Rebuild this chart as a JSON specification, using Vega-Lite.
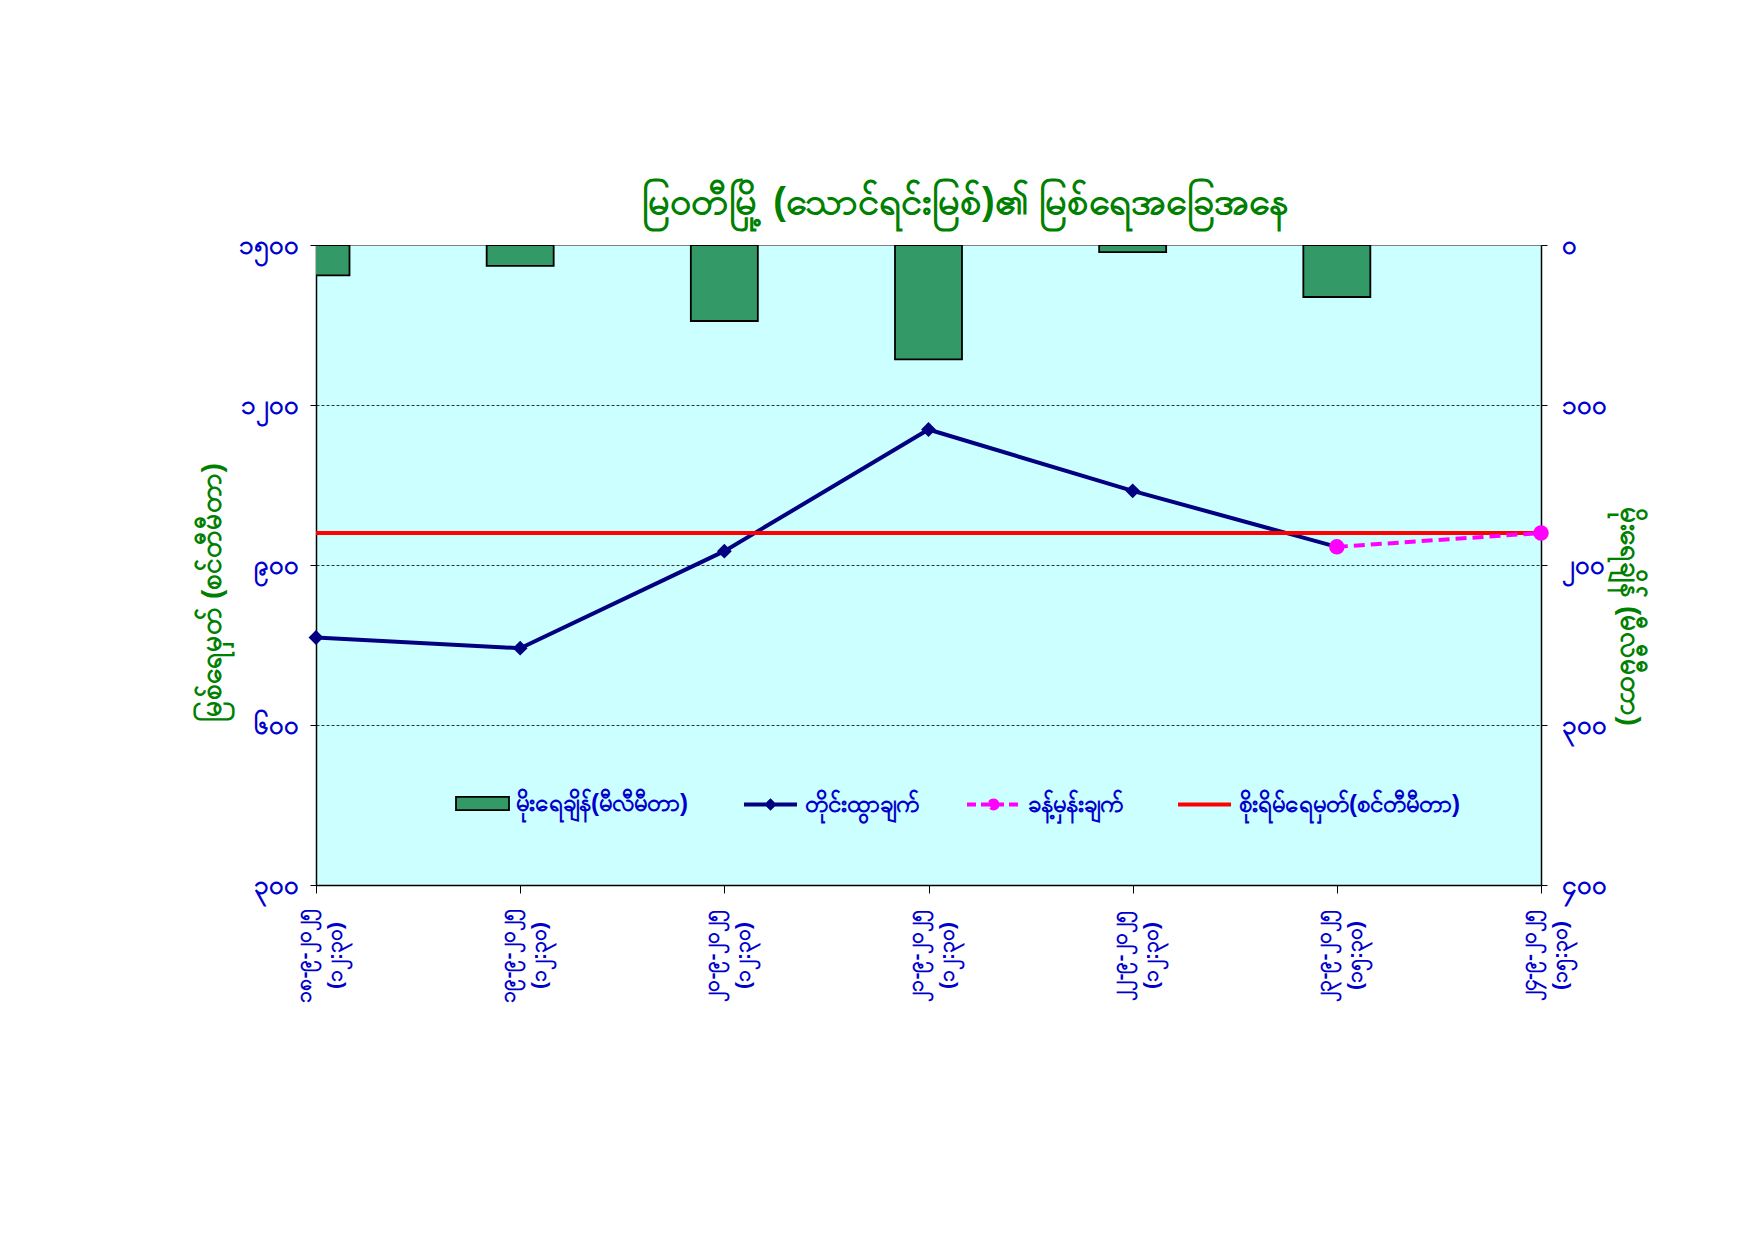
{
  "$schema": "https://vega.github.io/schema/vega-lite/v6.json",
  "description": "Myawaddy (Thaungyin river) water level and rainfall",
  "autosize": {"type": "none"},
  "padding": {"left": 316, "top": 245, "right": 213, "bottom": 356},
  "width": 1225,
  "height": 640,
  "background": "white",

  "title": {
    "text": "မြဝတီမြို့ (သောင်ရင်းမြစ်)၏ မြစ်ရေအခြေအနေ",
    "color": "#008000",
    "fontSize": 38,
    "fontWeight": "bold",
    "anchor": "middle",
    "dx": 37,
    "offset": 10
  },

  "datasets": {
    "rain": [
      {"when": "၁၈-၉-၂၀၂၅ (၁၂:၃၀)", "mm": 19},
      {"when": "၁၉-၉-၂၀၂၅ (၁၂:၃၀)", "mm": 13},
      {"when": "၂၀-၉-၂၀၂၅ (၁၂:၃၀)", "mm": 47.5},
      {"when": "၂၁-၉-၂၀၂၅ (၁၂:၃၀)", "mm": 71.5},
      {"when": "၂၂-၉-၂၀၂၅ (၁၂:၃၀)", "mm": 4.5},
      {"when": "၂၃-၉-၂၀၂၅ (၁၅:၃၀)", "mm": 32.5}
    ],
    "obs": [
      {"when": "၁၈-၉-၂၀၂၅ (၁၂:၃၀)", "cm": 764},
      {"when": "၁၉-၉-၂၀၂၅ (၁၂:၃၀)", "cm": 744},
      {"when": "၂၀-၉-၂၀၂၅ (၁၂:၃၀)", "cm": 926},
      {"when": "၂၁-၉-၂၀၂၅ (၁၂:၃၀)", "cm": 1154},
      {"when": "၂၂-၉-၂၀၂၅ (၁၂:၃၀)", "cm": 1039},
      {"when": "၂၃-၉-၂၀၂၅ (၁၅:၃၀)", "cm": 934}
    ],
    "fc": [
      {"when": "၂၃-၉-၂၀၂၅ (၁၅:၃၀)", "cm": 934},
      {"when": "၂၄-၉-၂၀၂၅ (၁၅:၃၀)", "cm": 960}
    ],
    "danger": [
      {"when": "၁၈-၉-၂၀၂၅ (၁၂:၃၀)", "cm": 960},
      {"when": "၂၄-၉-၂၀၂၅ (၁၅:၃၀)", "cm": 960}
    ]
  },

  "encoding": {
    "x": {
      "field": "when",
      "type": "ordinal",
      "scale": {
        "type": "point",
        "padding": 0,
        "domain": [
          "၁၈-၉-၂၀၂၅ (၁၂:၃၀)", "၁၉-၉-၂၀၂၅ (၁၂:၃၀)", "၂၀-၉-၂၀၂၅ (၁၂:၃၀)",
          "၂၁-၉-၂၀၂၅ (၁၂:၃၀)", "၂၂-၉-၂၀၂၅ (၁၂:၃၀)", "၂၃-၉-၂၀၂၅ (၁၅:၃၀)",
          "၂၄-၉-၂၀၂၅ (၁၅:၃၀)"
        ]
      },
      "axis": {
        "title": null,
        "labelExpr": "split(datum.label, ' ')",
        "labelAngle": 270,
        "labelAlign": "center",
        "labelBaseline": "middle",
        "labelOffset": -12,
        "labelPadding": 62,
        "labelFontSize": 21,
        "labelFontWeight": "bold",
        "labelColor": "#0000CC",
        "labelLineHeight": 31,
        "labelFlush": false,
        "labelOverlap": false,
        "domainColor": "black",
        "domainWidth": 1.5,
        "tickColor": "black",
        "tickSize": 8,
        "grid": false
      }
    }
  },

  "layer": [
    {
      "data": {"name": "rain"},
      "mark": {"type": "bar", "width": 67, "stroke": "black", "strokeWidth": 1.8, "clip": true, "opacity": 1},
      "encoding": {
        "y": {
          "field": "mm",
          "type": "quantitative",
          "scale": {"domain": [0, 400], "reverse": true},
          "axis": {
            "orient": "right",
            "values": [0, 100, 200, 300, 400],
            "labelExpr": "datum.value == 0 ? '၀' : datum.value == 100 ? '၁၀၀' : datum.value == 200 ? '၂၀၀' : datum.value == 300 ? '၃၀၀' : '၄၀၀'",
            "labelFontSize": 26,
            "labelFontWeight": "bold",
            "labelColor": "#0000CC",
            "labelPadding": 14,
            "labelFlush": false,
            "tickSize": 6,
            "tickColor": "black",
            "domainColor": "black",
            "domainWidth": 1.5,
            "grid": false,
            "title": "မိုးရေချိန် (မီလီမီတာ)",
            "titleColor": "#008000",
            "titleFontSize": 28,
            "titleFontWeight": "bold",
            "titleAngle": 90,
            "titlePadding": 8,
            "titleY": 371
          }
        },
        "color": {
          "datum": "မိုးရေချိန်(မီလီမီတာ)",
          "scale": {"range": ["#339966"]},
          "legend": {
            "orient": "none",
            "legendX": 139,
            "legendY": 531,
            "title": null,
            "padding": 0,
            "symbolType": "M-1,-0.25H1V0.25H-1Z",
            "symbolSize": 2809,
            "symbolFillColor": "#339966",
            "symbolStrokeColor": "black",
            "symbolStrokeWidth": 1.8,
            "symbolOpacity": 1,
            "labelOffset": 6,
            "labelFontSize": 24,
            "labelFontWeight": "bold",
            "labelColor": "#0000CC",
            "labelLimit": 400
          }
        }
      }
    },
    {
      "encoding": {
        "y": {
          "field": "cm",
          "type": "quantitative",
          "scale": {"domain": [300, 1500]},
          "axis": {
            "orient": "left",
            "values": [300, 600, 900, 1200, 1500],
            "labelExpr": "datum.value == 300 ? '၃၀၀' : datum.value == 600 ? '၆၀၀' : datum.value == 900 ? '၉၀၀' : datum.value == 1200 ? '၁၂၀၀' : '၁၅၀၀'",
            "labelFontSize": 26,
            "labelFontWeight": "bold",
            "labelColor": "#0000CC",
            "labelPadding": 12,
            "labelFlush": false,
            "tickSize": 6,
            "tickColor": "black",
            "domainColor": "black",
            "domainWidth": 1.5,
            "grid": true,
            "gridColor": "black",
            "gridDash": [3, 2],
            "gridWidth": 0.8,
            "gridOpacity": {"condition": {"test": "datum.value == 300 || datum.value == 1500", "value": 0}, "value": 1},
            "title": "မြစ်ရေမှတ် (စင်တီမီတာ)",
            "titleColor": "#008000",
            "titleFontSize": 28,
            "titleFontWeight": "bold",
            "titlePadding": 12,
            "titleY": 347
          }
        }
      },
      "layer": [
        {
          "data": {"name": "obs"},
          "mark": {"type": "line", "strokeWidth": 4, "point": {"shape": "diamond", "size": 220, "filled": true, "color": "#000080", "opacity": 1}},
          "encoding": {
            "color": {
              "datum": "တိုင်းထွာချက်",
              "scale": {"range": ["#000080"]},
              "legend": {
                "orient": "none",
                "legendX": 426,
                "legendY": 531,
                "title": null,
                "padding": 0,
                "symbolType": "M-1,0H1M-0.13,0L0,-0.13L0.13,0L0,0.13Z",
                "symbolSize": 2809,
                "symbolFillColor": "#000080",
                "symbolStrokeColor": "#000080",
                "symbolStrokeWidth": 4,
                "symbolOpacity": 1,
                "labelOffset": 6,
                "labelFontSize": 24,
                "labelFontWeight": "bold",
                "labelColor": "#0000CC"
              }
            }
          }
        },
        {
          "data": {"name": "danger"},
          "mark": {"type": "line", "strokeWidth": 4},
          "encoding": {
            "color": {
              "datum": "စိုးရိမ်ရေမှတ်(စင်တီမီတာ)",
              "scale": {"range": ["#FF0000"]},
              "legend": {
                "orient": "none",
                "legendX": 860,
                "legendY": 531,
                "title": null,
                "padding": 0,
                "symbolType": "M-1,0H1",
                "symbolSize": 2809,
                "symbolStrokeColor": "#FF0000",
                "symbolStrokeWidth": 4,
                "symbolOpacity": 1,
                "labelOffset": 6,
                "labelFontSize": 24,
                "labelFontWeight": "bold",
                "labelColor": "#0000CC",
                "labelLimit": 400
              }
            }
          }
        },
        {
          "data": {"name": "fc"},
          "mark": {"type": "line", "strokeWidth": 4, "strokeDash": [11, 6], "point": {"shape": "circle", "size": 240, "filled": true, "color": "#FF00FF", "opacity": 1}},
          "encoding": {
            "color": {
              "datum": "ခန့်မှန်းချက်",
              "scale": {"range": ["#FF00FF"]},
              "legend": {
                "orient": "none",
                "legendX": 649,
                "legendY": 531,
                "title": null,
                "padding": 0,
                "symbolType": "M-1,0H1M0.15,0A0.15,0.15 0 1,1 -0.15,0A0.15,0.15 0 1,1 0.15,0Z",
                "symbolSize": 2809,
                "symbolFillColor": "#FF00FF",
                "symbolStrokeColor": "#FF00FF",
                "symbolStrokeWidth": 4,
                "symbolDash": [9, 5],
                "symbolOpacity": 1,
                "labelOffset": 6,
                "labelFontSize": 24,
                "labelFontWeight": "bold",
                "labelColor": "#0000CC"
              }
            }
          }
        }
      ],
      "resolve": {"scale": {"color": "independent"}, "legend": {"color": "independent"}}
    }
  ],

  "resolve": {"scale": {"y": "independent", "color": "independent"}, "legend": {"color": "independent"}},

  "config": {
    "view": {"fill": "#CCFFFF", "stroke": "#808080", "strokeWidth": 1}
  }
}
